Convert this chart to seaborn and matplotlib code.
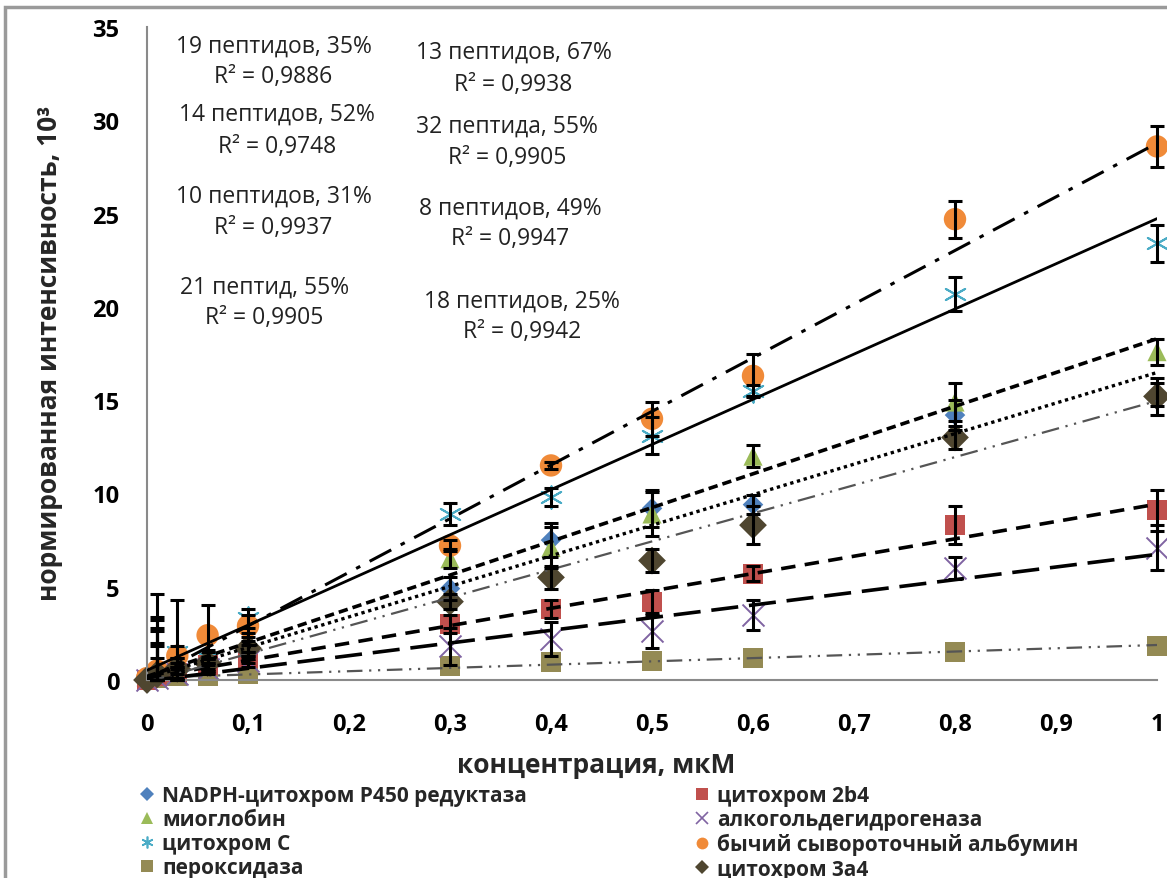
import numpy as np
import pandas as pd
import matplotlib
matplotlib.use("Agg")
import matplotlib.pyplot as plt
from matplotlib.lines import Line2D
from matplotlib.patches import Rectangle
import seaborn as sns

# ---------------- data ----------------
conc = [0, 0.01, 0.03, 0.06, 0.1, 0.3, 0.4, 0.5, 0.6, 0.8, 1.0]

names = [
    "NADPH-цитохром P450 редуктаза",
    "миоглобин",
    "цитохром С",
    "пероксидаза",
    "цитохром 2b4",
    "алкогольдегидрогеназа",
    "бычий сывороточный альбумин",
    "цитохром 3a4",
]

nadph = [0, 0.2, 0.4, 0.8, 1.5, 4.9, 7.5, 9.2, 9.4, 14.2, 15.3]
myoglobin = [0, 0.3, 0.6, 1.0, 2.0, 6.5, 7.1, 8.9, 12.0, 14.9, 17.6]
cytc = [0, 0.3, 1.5, 1.2, 3.3, 8.9, 9.8, 13.1, 15.5, 20.7, 23.4]
peroxidase = [0, 0.1, 0.2, 0.2, 0.3, 0.75, 0.95, 1.0, 1.2, 1.5, 1.8]
cyt2b4 = [0, 0.2, 0.4, 0.8, 1.2, 3.0, 3.8, 4.2, 5.7, 8.3, 9.1]
adh = [0, 0.1, 0.3, 0.6, 1.0, 1.8, 2.2, 2.6, 3.5, 6.0, 7.1]
bsa = [0.1, 0.5, 1.3, 2.4, 2.9, 7.2, 11.5, 14.0, 16.3, 24.7, 28.6]
cyt3a4 = [0, 0.3, 0.6, 0.9, 1.7, 4.2, 5.5, 6.4, 8.3, 13.0, 15.2]

err_nadph = [0, 2.6, 0.3, 0.3, 0.4, 0.6, 0.9, 1.0, 0.5, 0.8, 0.6]
err_myoglobin = [0, 1.5, 0.6, 0.6, 0.5, 0.5, 1.1, 1.2, 0.6, 1.0, 0.7]
err_cytc = [0, 3.1, 0.3, 0.3, 0.5, 0.6, 0.5, 1.0, 0.3, 0.9, 1.0]
err_peroxidase = [0, 1.1, 0, 0, 0, 0, 0, 0, 0, 0, 0]
err_cyt2b4 = [0, 2.4, 0.3, 0.3, 0.3, 0.5, 0.5, 0.6, 0.4, 1.0, 1.1]
err_adh = [0, 1.9, 0.3, 0.3, 0.3, 1.0, 0.9, 0.9, 0.8, 0.6, 1.2]
err_bsa = [0, 4.1, 3.0, 1.6, 0.6, 0.3, 0.2, 0.9, 1.15, 1.0, 1.1]
err_cyt3a4 = [0, 2.9, 0.3, 0.3, 0.4, 0.4, 0.6, 0.6, 1.0, 0.6, 1.0]

peptide_labels = ["19 пептидов, 35%", "14 пептидов, 52%", "10 пептидов, 31%",
                  "21 пептид, 55%", "13 пептидов, 67%", "32 пептида, 55%",
                  "8 пептидов, 49%", "18 пептидов, 25%"]
r2_labels = ["R² = 0,9886", "R² = 0,9748", "R² = 0,9937", "R² = 0,9905",
             "R² = 0,9938", "R² = 0,9905", "R² = 0,9947", "R² = 0,9942"]

xticks = [0, 0.1, 0.2, 0.3, 0.4, 0.5, 0.6, 0.7, 0.8, 0.9, 1.0]
xtick_labels = ["0", "0,1", "0,2", "0,3", "0,4", "0,5", "0,6", "0,7", "0,8", "0,9", "1"]
yticks = [0, 5, 10, 15, 20, 25, 30, 35]

values = [nadph, myoglobin, cytc, peroxidase, cyt2b4, adh, bsa, cyt3a4]
errors = [err_nadph, err_myoglobin, err_cytc, err_peroxidase, err_cyt2b4,
          err_adh, err_bsa, err_cyt3a4]

# ---------------- styles ----------------
colors = ["#4F81BD", "#9BBB59", "#4BACC6", "#948A54",
          "#C0504D", "#8064A2", "#F08A38", "#4F4630"]
markers = ["D", "^", (6, 2, 0), "s", "s", "x", "o", "D"]
sizes = [110, 190, 260, 205, 205, 250, 260, 200]
line_styles = [
    dict(ls=(0, (1, 1.1)), lw=2.4, color="black"),          # NADPH dotted
    dict(ls=(0, (2.6, 1.4)), lw=2.6, color="black"),        # myoglobin
    dict(ls="-", lw=2.0, color="black"),                    # cyt C
    dict(ls=(0, (7, 3, 1, 3, 1, 3)), lw=1.6, color="#555555"),  # peroxidase
    dict(ls=(0, (4, 2.6)), lw=2.6, color="black"),          # 2b4
    dict(ls=(0, (7.5, 3)), lw=2.6, color="black"),          # ADH
    dict(ls=(0, (8, 3.5, 1.5, 3.5)), lw=2.2, color="black"),  # BSA
    dict(ls=(0, (8, 3, 1, 3, 1, 3)), lw=1.6, color="#555555"),  # 3a4
]

W, H = 1167, 879
sns.set_theme(style="white")
plt.rcParams["font.family"] = ["Open Sans", "DejaVu Sans"]

fig = plt.figure(figsize=(W / 100, H / 100), dpi=100)
fig.patch.set_facecolor("white")
ax = fig.add_axes([147 / W, 1 - 681 / H, (1157 - 147) / W, (681 - 28) / H])

df = pd.DataFrame({"conc": conc})
for nm, v in zip(names, values):
    df[nm] = v

def is_filled(m):
    return m != "x" and not isinstance(m, tuple)

for i, nm in enumerate(names):
    filled = is_filled(markers[i])
    sns.scatterplot(data=df, x="conc", y=nm, ax=ax, marker=markers[i],
                    color=colors[i], s=sizes[i],
                    edgecolor=colors[i] if not filled else "none",
                    linewidth=1.4 if not filled else 0,
                    zorder=2, clip_on=False, legend=False)

for i, nm in enumerate(names):
    sns.regplot(data=df, x="conc", y=nm, ax=ax, scatter=False, ci=None,
                truncate=True, line_kws=dict(zorder=3, **line_styles[i]))

for i, nm in enumerate(names):
    y = np.array(values[i])
    e = np.array(errors[i])
    keep = e > 0
    lower = np.minimum(e, y)
    ax.errorbar(np.array(conc)[keep], y[keep], yerr=[lower[keep], e[keep]],
                fmt="none", ecolor="black", elinewidth=2.2, capsize=5,
                capthick=2.2, zorder=4, clip_on=False)

ax.set_xlim(0, 1)
ax.set_ylim(0, 35)
ax.set_xticks(xticks)
ax.set_xticklabels(xtick_labels)
ax.set_yticks(yticks)
ax.set_xlabel("")
ax.set_ylabel("")
for s in ["top", "right"]:
    ax.spines[s].set_visible(False)
for s in ["left", "bottom"]:
    ax.spines[s].set_color("#8a8a8a")
    ax.spines[s].set_linewidth(1.5)
ax.tick_params(axis="both", direction="out", length=8, width=1.3,
               color="#8a8a8a", labelsize=17, labelcolor="black")
ax.tick_params(axis="x", pad=15)
ax.tick_params(axis="y", pad=12)
for lab in ax.get_xticklabels() + ax.get_yticklabels():
    lab.set_fontweight("bold")
ax.grid(False)

fig.text(50 / W, 1 - 353 / H, "нормированная интенсивность, 10³", rotation=90,
         ha="center", va="center", fontsize=19, fontweight="bold")
fig.text(596 / W, 1 - 766 / H, "концентрация, мкМ", ha="center", va="center",
         fontsize=19, fontweight="bold")

pep_pos = [(274, 47), (277, 115), (274, 197), (265, 288),
           (514, 53), (507, 127), (510, 209), (522, 302)]
r2_pos = [(273, 77), (277, 147), (273, 228), (264, 318),
          (513, 85), (507, 158), (510, 239), (522, 332)]
for t, (px, py) in zip(peptide_labels, pep_pos):
    fig.text(px / W, 1 - py / H, t, ha="center", va="center", fontsize=16.5,
             color="#222222")
for t, (px, py) in zip(r2_labels, r2_pos):
    fig.text(px / W, 1 - py / H, t, ha="center", va="center", fontsize=16.5,
             color="#222222")

# legend
handles = []
for i in range(8):
    filled = is_filled(markers[i])
    handles.append(Line2D([], [], linestyle="None", marker=markers[i],
                          markersize=8.5 if markers[i] != "D" else 7,
                          markerfacecolor=colors[i] if filled else "none",
                          markeredgecolor=colors[i],
                          markeredgewidth=1.2 if not filled else 0))
leg_kw = dict(loc="upper left", frameon=False, handlelength=0.8,
              handletextpad=0.3, labelspacing=0.15, borderpad=0,
              borderaxespad=0, prop=dict(family=["Open Sans", "DejaVu Sans"],
                                         weight="bold", size=15))
fig.legend(handles[:4], names[:4], bbox_to_anchor=(139 / W, 1 - 786 / H), **leg_kw)
fig.legend(handles[4:], names[4:], bbox_to_anchor=(694 / W, 1 - 786 / H), **leg_kw)

# outer frame (partially cropped in the reference)
fig.patches.append(Rectangle((5 / W, -0.5), 2.0, (1 - 8 / H) + 0.5,
                             transform=fig.transFigure, fill=False,
                             edgecolor="#9a9a9a", linewidth=2.5))

fig.savefig("out.png", dpi=100)
